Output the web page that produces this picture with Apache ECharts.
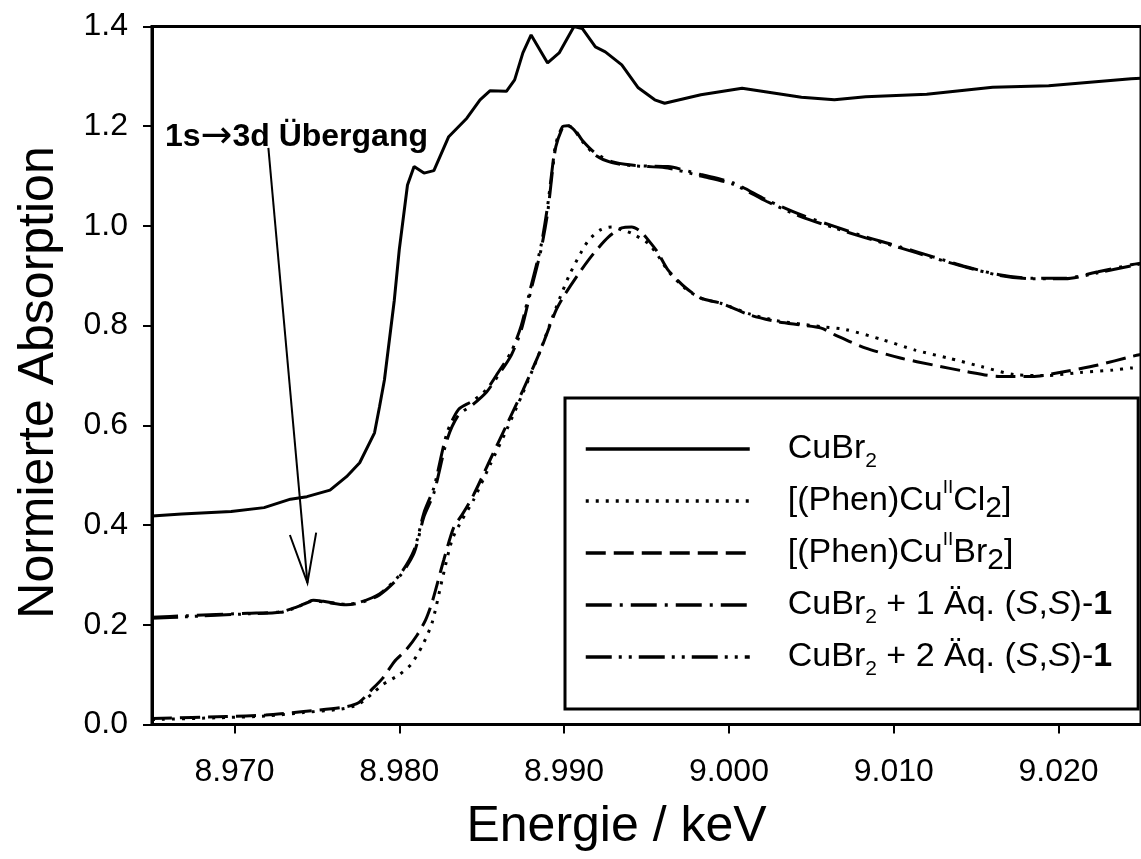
<!DOCTYPE html>
<html>
<head>
<meta charset="utf-8">
<script src="https://cdn.jsdelivr.net/npm/echarts@6/dist/echarts.min.js"></script>
<style>
html,body{margin:0;padding:0;background:#fff;}
#chart{width:1141px;height:859px;}
</style>
</head>
<body>
<div id="chart"></div>
<script>
// ---- data (energy in keV, normalized absorption) ----
const seriesNames = ['CuBr2', '[(Phen)CuIICl2]', '[(Phen)CuIIBr2]', 'CuBr2 + 1 Äq. (S,S)-1', 'CuBr2 + 2 Äq. (S,S)-1'];
const legendLabels = [
  'CuBr{sub|2}',
  '[(Phen)Cu{sup|II}Cl{subL|2}]',
  '[(Phen)Cu{sup|II}Br{subL|2}]',
  'CuBr{sub|2} + 1 Äq. ({it|S},{it|S})-{b|1}',
  'CuBr{sub|2} + 2 Äq. ({it|S},{it|S})-{b|1}'
];
const xTickValues = [8.970, 8.980, 8.990, 9.000, 9.010, 9.020];

const cuBr2 = [
  [8.9650,0.418],[8.9668,0.422],[8.9698,0.427],[8.9718,0.435],[8.9734,0.452],[8.9744,0.457],
  [8.9758,0.470],[8.9768,0.497],[8.9776,0.525],[8.9785,0.585],[8.9788,0.637],[8.9791,0.691],
  [8.9797,0.851],[8.9800,0.952],[8.9805,1.082],[8.9809,1.119],[8.9815,1.106],[8.9821,1.111],
  [8.9830,1.179],[8.9841,1.216],[8.9849,1.253],[8.9855,1.271],[8.9865,1.270],[8.9870,1.293],
  [8.9875,1.347],[8.9880,1.383],[8.9890,1.327],[8.9897,1.347],[8.9906,1.400],[8.9911,1.396],
  [8.9919,1.359],[8.9925,1.349],[8.9935,1.323],[8.9945,1.277],[8.9955,1.253],[8.9961,1.246],
  [8.9983,1.263],[9.0008,1.276],[9.0044,1.258],[9.0064,1.253],[9.0083,1.259],[9.0120,1.264],
  [9.0160,1.278],[9.0194,1.281],[9.0244,1.295],[9.0250,1.296]
];
const phenCl2 = [
  [8.9650,0.010],[8.9695,0.014],[8.9719,0.017],[8.9742,0.024],[8.9765,0.031],[8.9775,0.040],
  [8.9783,0.060],[8.9790,0.080],[8.9800,0.100],[8.9807,0.120],[8.9814,0.158],[8.9820,0.205],
  [8.9826,0.290],[8.9832,0.370],[8.9838,0.410],[8.9845,0.450],[8.9855,0.520],[8.9865,0.590],
  [8.9875,0.665],[8.9885,0.745],[8.9895,0.835],[8.9903,0.900],[8.9910,0.945],[8.9915,0.972],
  [8.9922,0.992],[8.9929,0.998],[8.9935,0.992],[8.9941,0.985],[8.9951,0.965],[8.9957,0.940],
  [8.9963,0.910],[8.9973,0.876],[8.9983,0.855],[8.9995,0.845],[9.0013,0.823],[9.0029,0.810],
  [9.0044,0.803],[9.0056,0.798],[9.0071,0.792],[9.0093,0.772],[9.0113,0.751],[9.0133,0.735],
  [9.0153,0.718],[9.0173,0.702],[9.0193,0.700],[9.0213,0.706],[9.0233,0.711],[9.0244,0.715],[9.0250,0.716]
];
const phenBr2 = [
  [8.9650,0.012],[8.9695,0.016],[8.9719,0.019],[8.9742,0.026],[8.9765,0.034],[8.9775,0.043],
  [8.9783,0.069],[8.9790,0.093],[8.9797,0.126],[8.9804,0.149],[8.9811,0.180],[8.9816,0.210],
  [8.9820,0.246],[8.9827,0.330],[8.9833,0.395],[8.9838,0.420],[8.9845,0.460],[8.9855,0.530],
  [8.9865,0.600],[8.9875,0.670],[8.9885,0.745],[8.9895,0.830],[8.9900,0.860],[8.9909,0.905],
  [8.9918,0.945],[8.9927,0.978],[8.9935,0.996],[8.9941,0.998],[8.9946,0.990],[8.9951,0.972],
  [8.9957,0.946],[8.9963,0.912],[8.9973,0.878],[8.9983,0.855],[8.9995,0.845],[9.0013,0.821],
  [9.0029,0.808],[9.0044,0.801],[9.0056,0.795],[9.0064,0.782],[9.0083,0.755],[9.0104,0.735],
  [9.0124,0.721],[9.0144,0.708],[9.0164,0.698],[9.0184,0.698],[9.0204,0.708],[9.0224,0.721],
  [9.0244,0.738],[9.0250,0.742]
];
const add1 = [
  [8.9650,0.215],[8.9670,0.218],[8.9708,0.223],[8.9728,0.226],[8.9738,0.236],[8.9748,0.248],
  [8.9754,0.246],[8.9768,0.240],[8.9776,0.244],[8.9788,0.260],[8.9800,0.296],[8.9809,0.344],
  [8.9815,0.417],[8.9821,0.464],[8.9829,0.571],[8.9836,0.621],[8.9844,0.640],[8.9853,0.667],
  [8.9860,0.700],[8.9868,0.741],[8.9874,0.791],[8.9880,0.872],[8.9886,0.952],[8.9890,1.026],
  [8.9893,1.112],[8.9895,1.159],[8.9899,1.197],[8.9901,1.203],[8.9906,1.195],[8.9911,1.172],
  [8.9919,1.146],[8.9929,1.129],[8.9941,1.122],[8.9951,1.120],[8.9963,1.119],[8.9983,1.103],
  [9.0003,1.086],[9.0023,1.052],[9.0044,1.022],[9.0064,0.999],[9.0083,0.978],[9.0104,0.958],
  [9.0124,0.938],[9.0144,0.918],[9.0164,0.902],[9.0184,0.895],[9.0204,0.895],[9.0224,0.908],
  [9.0244,0.922],[9.0250,0.925]
];
const add2 = [
  [8.9650,0.213],[8.9670,0.216],[8.9708,0.222],[8.9728,0.225],[8.9738,0.235],[8.9748,0.249],
  [8.9754,0.247],[8.9768,0.241],[8.9776,0.245],[8.9788,0.262],[8.9800,0.299],[8.9809,0.350],
  [8.9815,0.425],[8.9821,0.475],[8.9829,0.585],[8.9836,0.632],[8.9844,0.648],[8.9853,0.672],
  [8.9860,0.706],[8.9868,0.748],[8.9874,0.800],[8.9880,0.880],[8.9886,0.960],[8.9890,1.040],
  [8.9893,1.120],[8.9895,1.165],[8.9899,1.199],[8.9902,1.201],[8.9906,1.193],[8.9911,1.170],
  [8.9919,1.142],[8.9929,1.127],[8.9941,1.121],[8.9951,1.119],[8.9963,1.116],[8.9983,1.100],
  [9.0003,1.083],[9.0023,1.049],[9.0044,1.018],[9.0064,0.996],[9.0083,0.976],[9.0104,0.956],
  [9.0124,0.936],[9.0144,0.917],[9.0164,0.901],[9.0184,0.894],[9.0204,0.894],[9.0224,0.906],
  [9.0244,0.920],[9.0250,0.924]
];
// annotation arrow: from label to the 1s->3d pre-edge feature
const arrowFrom = [8.97206, 1.1565];
const arrowTo = [8.97443, 0.284];
const annotationLabel = '{t|1s}{a|\u2192}{t|3d Übergang}';

const FONT = "'Liberation Sans', Arial, Helvetica, sans-serif";
const chart = echarts.init(document.getElementById('chart'), null, {renderer: 'canvas'});

const dashes = ['solid', [3, 7], [20, 8], [26, 8, 3, 8], [26, 7, 3, 7, 3, 7]];
const datasets = [cuBr2, phenCl2, phenBr2, add1, add2];

const lineSeries = seriesNames.map((n, i) => ({
  name: n,
  type: 'line',
  data: datasets[i],
  symbol: 'none',
  showSymbol: false,
  smooth: i === 0 ? false : 0.25,
  lineStyle: {color: '#000', width: 3, type: dashes[i]},
  itemStyle: {color: '#000'},
  z: 3 + i
}));

const arrowSeries = {
  type: 'custom',
  name: 'arrow',
  silent: true,
  clip: false,
  z: 10,
  data: [[arrowFrom[0], arrowFrom[1], arrowTo[0], arrowTo[1]]],
  renderItem: function (params, api) {
    const p1 = api.coord([api.value(0), api.value(1)]);
    const p2 = api.coord([api.value(2), api.value(3)]);
    const dx = p1[0] - p2[0], dy = p1[1] - p2[1];
    const len = Math.sqrt(dx * dx + dy * dy);
    const ux = dx / len, uy = dy / len;
    const a = 15 * Math.PI / 180, L = 51;
    const b1 = [p2[0] + L * (ux * Math.cos(a) - uy * Math.sin(a)), p2[1] + L * (ux * Math.sin(a) + uy * Math.cos(a))];
    const b2 = [p2[0] + L * (ux * Math.cos(-a) - uy * Math.sin(-a)), p2[1] + L * (ux * Math.sin(-a) + uy * Math.cos(-a))];
    const st = {stroke: '#000', lineWidth: 2, fill: null};
    return {
      type: 'group',
      children: [
        {type: 'line', shape: {x1: p1[0], y1: p1[1], x2: p2[0], y2: p2[1]}, style: st},
        {type: 'polyline', shape: {points: [b1, p2, b2]}, style: st}
      ]
    };
  }
};

const richBase = {fontFamily: FONT, color: '#000'};
const option = {
  animation: false,
  backgroundColor: '#fff',
  grid: {
    left: 152, top: 26.5, right: -7, bottom: 134.5,
    show: true, borderColor: '#000', borderWidth: 3, backgroundColor: 'transparent'
  },
  xAxis: {
    type: 'value', min: 8.965, max: 9.025,
    name: 'Energie / keV', nameLocation: 'middle', nameGap: 78,
    nameTextStyle: {fontFamily: FONT, fontSize: 50, color: '#000', padding: [0, 60, 0, 0]},
    axisLine: {show: true, lineStyle: {color: '#000', width: 3}},
    axisTick: {show: true, inside: false, length: 9, lineStyle: {color: '#000', width: 2}, customValues: xTickValues},
    axisLabel: {fontFamily: FONT, fontSize: 32, color: '#000', margin: 32, customValues: xTickValues,
      formatter: v => v.toFixed(3)},
    splitLine: {show: false}
  },
  yAxis: {
    type: 'value', min: 0, max: 1.4, interval: 0.2,
    name: 'Normierte Absorption', nameLocation: 'middle', nameGap: 88,
    nameTextStyle: {fontFamily: FONT, fontSize: 50, color: '#000', padding: [0, 14, 0, 0]},
    axisLine: {show: true, lineStyle: {color: '#000', width: 3}},
    axisTick: {show: true, inside: false, length: 9, lineStyle: {color: '#000', width: 2}},
    axisLabel: {fontFamily: FONT, fontSize: 32, color: '#000', margin: 24, formatter: v => v.toFixed(1)},
    splitLine: {show: false}
  },
  legend: {
    data: seriesNames,
    orient: 'vertical',
    left: 565, top: 398,
    padding: [28, 26, 29, 19],
    itemWidth: 164, itemHeight: 20, itemGap: 6,
    borderColor: '#000', borderWidth: 3, backgroundColor: '#fff',
    selectedMode: false,
    itemStyle: {opacity: 0, borderWidth: 0},
    lineStyle: {width: 3.5},
    formatter: function (name) { return legendLabels[seriesNames.indexOf(name)]; },
    textStyle: {
      fontFamily: FONT, fontSize: 34, color: '#000', lineHeight: 46, padding: [0, 0, 0, 33],
      rich: {
        sub: Object.assign({fontSize: 21, lineHeight: 20, verticalAlign: 'bottom'}, richBase),
        subL: Object.assign({fontSize: 30, lineHeight: 26, verticalAlign: 'bottom'}, richBase),
        sup: Object.assign({fontSize: 19, lineHeight: 18, verticalAlign: 'top'}, richBase),
        it: Object.assign({fontSize: 34, fontStyle: 'italic'}, richBase),
        b: Object.assign({fontSize: 34, fontWeight: 'bold'}, richBase)
      }
    }
  },
  graphic: [
    {type: 'text', left: 165, top: 118, z: 20,
      style: {text: annotationLabel, fill: '#000',
        rich: {
          t: {fontFamily: FONT, fontSize: 32, fontWeight: 'bold', color: '#000', lineHeight: 34},
          a: {fontFamily: "'DejaVu Sans', sans-serif", fontSize: 38, fontWeight: 'normal', color: '#000', lineHeight: 34}
        }}}
  ],
  series: lineSeries.concat([arrowSeries])
};
chart.setOption(option);
</script>
</body>
</html>
